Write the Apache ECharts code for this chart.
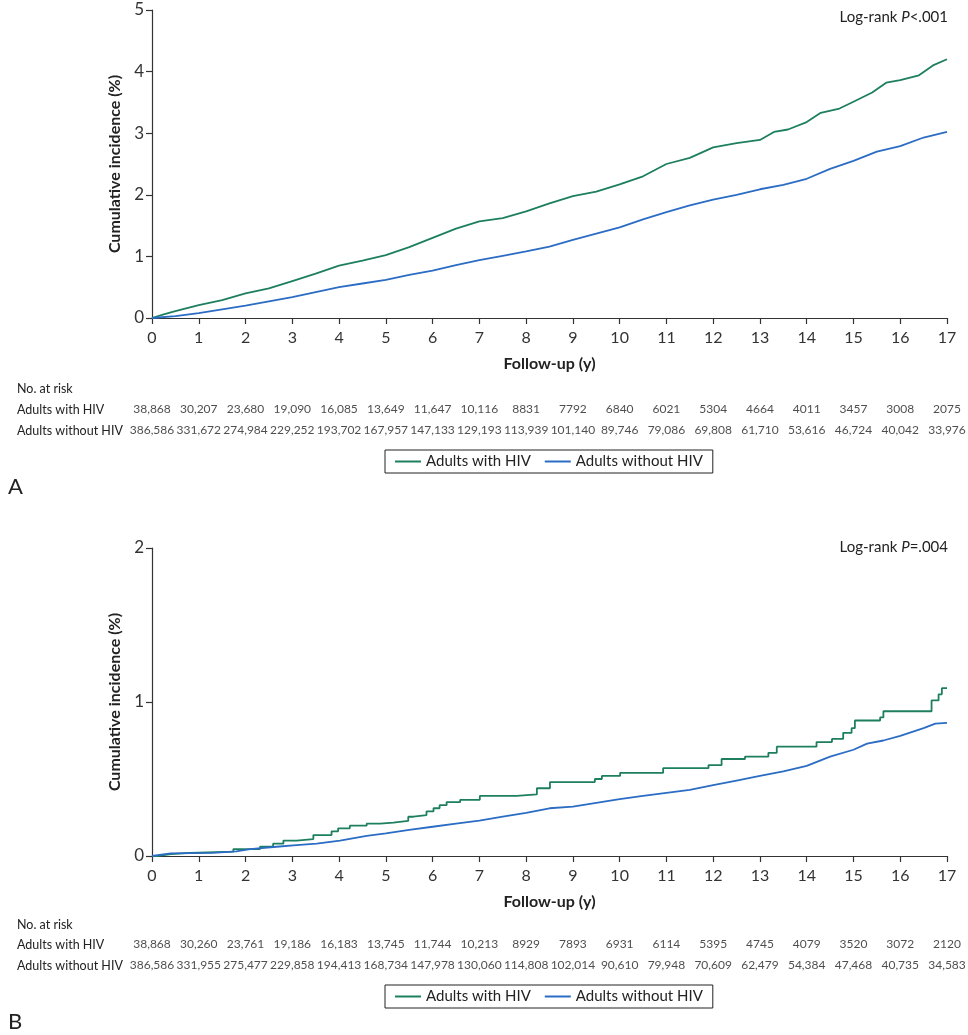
<!DOCTYPE html>
<html><head><meta charset="utf-8">
<script src="https://cdn.jsdelivr.net/npm/echarts@6/dist/echarts.min.js"></script>
<style>html,body{margin:0;padding:0;background:#fff}#c{width:968px;height:1035px}</style>
</head><body><div id="c"></div>
<script>
// ---- data ----
const yearTicks = [0,1,2,3,4,5,6,7,8,9,10,11,12,13,14,15,16,17];
const seriesNames = ['Adults with HIV', 'Adults without HIV'];

// Panel A: cumulative incidence (%) [year, value]
const aWithHIV = [[0,0],[0.25,0.06],[0.5,0.11],[0.75,0.16],[1,0.21],[1.5,0.29],[2,0.40],[2.5,0.48],[3,0.60],[3.5,0.72],[4,0.85],[4.5,0.93],[5,1.02],[5.5,1.15],[6,1.30],[6.5,1.45],[7,1.57],[7.5,1.62],[8,1.73],[8.5,1.86],[9,1.98],[9.5,2.05],[10,2.17],[10.5,2.30],[11,2.50],[11.5,2.60],[12,2.77],[12.5,2.84],[13,2.89],[13.3,3.02],[13.6,3.06],[14,3.18],[14.3,3.33],[14.7,3.40],[15,3.51],[15.4,3.66],[15.7,3.82],[16,3.86],[16.4,3.94],[16.7,4.10],[17,4.20]];
const aWithoutHIV = [[0,0],[0.5,0.03],[1,0.08],[1.5,0.14],[2,0.20],[2.5,0.27],[3,0.34],[3.5,0.42],[4,0.50],[4.5,0.56],[5,0.62],[5.5,0.70],[6,0.77],[6.5,0.86],[7,0.94],[7.5,1.01],[8,1.08],[8.5,1.16],[9,1.27],[9.5,1.37],[10,1.47],[10.5,1.60],[11,1.72],[11.5,1.83],[12,1.92],[12.5,2.00],[13,2.09],[13.5,2.16],[14,2.26],[14.5,2.42],[15,2.55],[15.5,2.70],[16,2.79],[16.5,2.93],[17,3.02]];

// Panel B
const bWithHIV = [[0,0],[0.1,0.012],[0.4,0.02],[0.81,0.028],[1.74,0.045],[2.31,0.06],[2.59,0.08],[2.81,0.10],[3.09,0.11],[3.45,0.136],[3.84,0.16],[3.98,0.18],[4.23,0.197],[4.59,0.21],[4.88,0.217],[5.16,0.228],[5.48,0.255],[5.59,0.266],[5.87,0.29],[6.02,0.31],[6.15,0.33],[6.30,0.35],[6.59,0.365],[7.01,0.39],[7.80,0.40],[8.23,0.44],[8.51,0.48],[9.47,0.50],[9.62,0.52],[10.01,0.54],[10.93,0.57],[11.90,0.59],[12.18,0.63],[12.68,0.645],[13.18,0.67],[13.36,0.71],[14.21,0.74],[14.54,0.76],[14.78,0.80],[14.96,0.83],[15.03,0.88],[15.57,0.90],[15.64,0.94],[16.67,1.01],[16.82,1.05],[16.89,1.09],[17.0,1.09]];
const bWithoutHIV = [[0,0],[0.4,0.017],[1.3,0.02],[1.8,0.03],[2.1,0.045],[2.66,0.06],[3.09,0.07],[3.52,0.08],[4.02,0.10],[4.59,0.13],[5,0.147],[5.5,0.17],[6,0.19],[6.5,0.21],[7,0.23],[7.5,0.255],[8,0.28],[8.5,0.31],[9,0.32],[9.5,0.345],[10,0.37],[10.5,0.39],[11,0.41],[11.5,0.43],[12,0.46],[12.5,0.49],[13,0.52],[13.5,0.55],[14,0.585],[14.5,0.645],[15,0.69],[15.29,0.73],[15.64,0.75],[16,0.78],[16.5,0.83],[16.75,0.86],[17,0.865]];

// Numbers at risk
const riskAWith = [38868,30207,23680,19090,16085,13649,11647,10116,8831,7792,6840,6021,5304,4664,4011,3457,3008,2075];
const riskAWithout = [386586,331672,274984,229252,193702,167957,147133,129193,113939,101140,89746,79086,69808,61710,53616,46724,40042,33976];
const riskBWith = [38868,30260,23761,19186,16183,13745,11744,10213,8929,7893,6931,6114,5395,4745,4079,3520,3072,2120];
const riskBWithout = [386586,331955,275477,229858,194413,168734,147978,130060,114808,102014,90610,79948,70609,62479,54384,47468,40735,34583];

// ---- build ----
const GREEN = '#1d7f5f', BLUE = '#2b6cc4', TXT = '#222';
const FONT = 'Lato';
function fmt(n){ return n >= 10000 ? String(n).replace(/\B(?=(\d{3})+(?!\d))/g, ',') : String(n); }
function riskData(withArr, withoutArr){
  const d = [];
  yearTicks.forEach((y,i)=>{ d.push([y, seriesNames[0], fmt(withArr[i])]); d.push([y, seriesNames[1], fmt(withoutArr[i])]); });
  return d;
}

const L = 152, R = 21;
const chart = echarts.init(document.getElementById('c'), null, {renderer:'canvas'});

function mainX(idx){
  return {gridIndex: idx, type:'value', min:0, max:17, interval:1,
    name:'Follow-up (y)', nameLocation:'middle', nameGap:38,
    nameTextStyle:{fontFamily:FONT, fontSize:16, fontWeight:'bold', color:TXT},
    axisLine:{lineStyle:{color:'#333', width:1.2}},
    axisTick:{length:6, lineStyle:{color:'#333', width:1.2}},
    axisLabel:{fontFamily:FONT, fontSize:16, color:'#333', margin:12},
    splitLine:{show:false}};
}
function mainY(idx, max){
  return {gridIndex: idx, type:'value', min:0, max:max, interval:1,
    name:'Cumulative incidence (%)', nameLocation:'middle', nameGap:24,
    nameTextStyle:{fontFamily:FONT, fontSize:16, fontWeight:'bold', color:TXT},
    axisLine:{show:true, lineStyle:{color:'#333', width:1.2}},
    axisTick:{show:true, length:6, lineStyle:{color:'#333', width:1.2}},
    axisLabel:{fontFamily:FONT, fontSize:17, color:'#333', margin:8},
    splitLine:{show:false}};
}
function riskX(idx){ return {gridIndex: idx, type:'value', min:0, max:17, show:false}; }
function riskY(idx){
  return {gridIndex: idx, type:'category', data: seriesNames, inverse:true,
    axisLine:{show:false}, axisTick:{show:false},
    axisLabel:{fontFamily:FONT, fontSize:12.5, color:TXT, align:'left', margin:135}};
}
function lineSeries(name, color, data, xi, step){
  return {name, type:'line', xAxisIndex:xi, yAxisIndex:xi, data, step: step || false,
    showSymbol:false, symbol:'none', color, lineStyle:{color, width:1.8}, z:3};
}
function riskSeries(data, xi){
  return {type:'scatter', xAxisIndex:xi, yAxisIndex:xi, data, symbolSize:1,
    itemStyle:{color:'rgba(0,0,0,0)'}, silent:true,
    label:{show:true, position:'inside', formatter:p=>p.value[2], fontFamily:FONT, fontSize:12, color:TXT}};
}
function legend(top){
  return {top, left:385, data: seriesNames, orient:'horizontal', icon:'rect', itemWidth:26, itemHeight:2,
    itemGap:14, borderColor:'#222', borderWidth:1, padding:[4,10], selectedMode:false,
    textStyle:{fontFamily:FONT, fontSize:15, color:TXT}};
}

chart.setOption({
  animation:false,
  backgroundColor:'#fff',
  grid:[
    {left:L, right:R, top:10, height:308},
    {left:L, right:R, top:548, height:308},
    {left:L, right:R, top:399, height:42},
    {left:L, right:R, top:934, height:42}
  ],
  xAxis:[mainX(0), mainX(1), riskX(2), riskX(3)],
  yAxis:[mainY(0,5), mainY(1,2), riskY(2), riskY(3)],
  legend:[legend(450), legend(985)],
  series:[
    lineSeries(seriesNames[0], GREEN, aWithHIV, 0),
    lineSeries(seriesNames[1], BLUE, aWithoutHIV, 0),
    lineSeries(seriesNames[0], GREEN, bWithHIV, 1, 'end'),
    lineSeries(seriesNames[1], BLUE, bWithoutHIV, 1),
    riskSeries(riskData(riskAWith, riskAWithout), 2),
    riskSeries(riskData(riskBWith, riskBWithout), 3)
  ],
  graphic:[
    {type:'text', right:20, top:10, style:{text:'{n|Log-rank }{i|P}{n|<.001}', rich:{n:{fontFamily:FONT, fontSize:15, fill:TXT}, i:{fontFamily:FONT, fontSize:15, fontStyle:'italic', fill:TXT}}}},
    {type:'text', right:20, top:540, style:{text:'{n|Log-rank }{i|P}{n|=.004}', rich:{n:{fontFamily:FONT, fontSize:15, fill:TXT}, i:{fontFamily:FONT, fontSize:15, fontStyle:'italic', fill:TXT}}}},
    {type:'text', left:17, top:382, style:{text:'No. at risk', fontFamily:FONT, fontSize:12.5, fill:TXT}},
    {type:'text', left:17, top:918, style:{text:'No. at risk', fontFamily:FONT, fontSize:12.5, fill:TXT}},
    {type:'text', left:8, top:476, style:{text:'A', fontFamily:FONT, fontSize:22, fill:TXT}},
    {type:'text', left:8, top:1011, style:{text:'B', fontFamily:FONT, fontSize:22, fill:TXT}}
  ]
});
</script></body></html>
